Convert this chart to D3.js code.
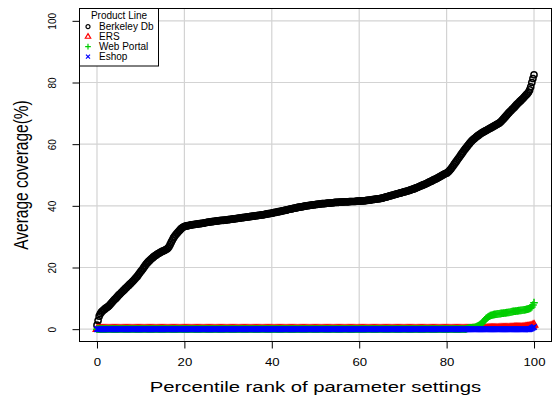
<!DOCTYPE html>
<html>
<head>
<meta charset="utf-8">
<script src="https://cdn.jsdelivr.net/npm/d3@7"></script>
<style>
  body { margin: 0; background: #fff; }
  svg { display: block; font-family: "Liberation Sans", Arial, sans-serif; }
</style>
</head>
<body>
<svg id="chart" width="552" height="398"></svg>
<script>
// percentile rank of each parameter setting (0, 0.25, ... 100)
const percentiles = d3.range(0, 100.25, 0.25);

const berkeleyDb = [
  1.3, 2.8, 4.2, 5.0, 5.5, 5.9, 6.2, 6.5, 6.8, 7.0, 7.3, 7.6, 8.0, 8.4, 8.8, 9.2, 9.6, 9.9, 10.3, 10.7,
  11.1, 11.4, 11.8, 12.1, 12.5, 12.8, 13.2, 13.5, 13.9, 14.2, 14.6, 14.9, 15.3, 15.6, 16.0, 16.4, 16.8, 17.2, 17.7, 18.2,
  18.7, 19.1, 19.6, 20.1, 20.6, 21.1, 21.5, 21.9, 22.2, 22.6, 22.9, 23.2, 23.5, 23.8, 24.0, 24.3, 24.5, 24.7, 24.9, 25.1,
  25.3, 25.4, 25.6, 25.8, 26.0, 26.3, 26.8, 27.5, 28.2, 28.9, 29.6, 30.1, 30.6, 31.0, 31.4, 31.8, 32.2, 32.6, 32.9, 33.1,
  33.3, 33.4, 33.5, 33.55, 33.6, 33.7, 33.8, 33.85, 33.9, 33.95, 34.0, 34.05, 34.1, 34.15, 34.2, 34.25, 34.3, 34.35, 34.4, 34.5,
  34.6, 34.65, 34.7, 34.75, 34.8, 34.85, 34.9, 34.95, 35.0, 35.05, 35.1, 35.15, 35.2, 35.25, 35.3, 35.3, 35.3, 35.35, 35.4, 35.45,
  35.5, 35.55, 35.6, 35.65, 35.7, 35.75, 35.8, 35.85, 35.9, 35.95, 36.0, 36.05, 36.1, 36.15, 36.2, 36.25, 36.3, 36.35, 36.4, 36.45,
  36.5, 36.55, 36.6, 36.65, 36.7, 36.75, 36.8, 36.85, 36.9, 36.95, 37.0, 37.05, 37.1, 37.15, 37.2, 37.3, 37.4, 37.45, 37.5, 37.55,
  37.6, 37.7, 37.8, 37.85, 37.9, 38.0, 38.1, 38.15, 38.2, 38.3, 38.4, 38.45, 38.5, 38.6, 38.7, 38.8, 38.9, 38.95, 39.0, 39.1,
  39.2, 39.25, 39.3, 39.4, 39.5, 39.55, 39.6, 39.65, 39.7, 39.8, 39.9, 39.95, 40.0, 40.05, 40.1, 40.15, 40.2, 40.25, 40.3, 40.35,
  40.4, 40.45, 40.5, 40.55, 40.6, 40.65, 40.7, 40.7, 40.7, 40.75, 40.8, 40.85, 40.9, 40.9, 40.9, 40.95, 41.0, 41.05, 41.1, 41.1,
  41.1, 41.15, 41.2, 41.2, 41.2, 41.25, 41.3, 41.3, 41.3, 41.3, 41.3, 41.35, 41.4, 41.4, 41.4, 41.4, 41.4, 41.45, 41.5, 41.5,
  41.5, 41.55, 41.6, 41.6, 41.6, 41.65, 41.7, 41.75, 41.8, 41.85, 41.9, 41.95, 42.0, 42.05, 42.1, 42.15, 42.2, 42.25, 42.3, 42.35,
  42.4, 42.5, 42.6, 42.7, 42.8, 42.9, 43.0, 43.1, 43.2, 43.3, 43.4, 43.5, 43.6, 43.7, 43.8, 43.9, 44.0, 44.1, 44.2, 44.3,
  44.4, 44.5, 44.6, 44.7, 44.8, 44.9, 45.0, 45.15, 45.3, 45.4, 45.5, 45.65, 45.8, 45.95, 46.1, 46.25, 46.4, 46.55, 46.7, 46.85,
  47.0, 47.15, 47.3, 47.5, 47.7, 47.85, 48.0, 48.2, 48.4, 48.55, 48.7, 48.9, 49.1, 49.3, 49.5, 49.7, 49.9, 50.1, 50.3, 50.45,
  50.6, 50.9, 51.2, 51.6, 52.0, 52.5, 53.0, 53.5, 54.0, 54.5, 55.0, 55.5, 56.0, 56.5, 57.0, 57.5, 58.0, 58.45, 58.9, 59.35,
  59.8, 60.25, 60.7, 61.05, 61.4, 61.7, 62.0, 62.3, 62.6, 62.85, 63.1, 63.35, 63.6, 63.8, 64.0, 64.2, 64.4, 64.6, 64.8, 65.0,
  65.2, 65.4, 65.6, 65.8, 66.0, 66.2, 66.4, 66.6, 66.8, 67.1, 67.4, 67.8, 68.2, 68.6, 69.0, 69.4, 69.8, 70.2, 70.6, 70.95,
  71.3, 71.65, 72.0, 72.4, 72.8, 73.15, 73.5, 73.85, 74.2, 74.55, 74.9, 75.3, 75.7, 76.05, 76.4, 76.9, 77.6, 78.6, 80.0, 81.3,
  82.5
];

const ers = [
  0, 0, 0, 0, 0, 0, 0, 0, 0, 0, 0, 0, 0, 0, 0, 0, 0, 0, 0, 0,
  0, 0, 0, 0, 0, 0, 0, 0, 0, 0, 0, 0, 0, 0, 0, 0, 0, 0, 0, 0,
  0, 0, 0, 0, 0, 0, 0, 0, 0, 0, 0, 0, 0, 0, 0, 0, 0, 0, 0, 0,
  0, 0, 0, 0, 0, 0, 0, 0, 0, 0, 0, 0, 0, 0, 0, 0, 0, 0, 0, 0,
  0, 0, 0, 0, 0, 0, 0, 0, 0, 0, 0, 0, 0, 0, 0, 0, 0, 0, 0, 0,
  0, 0, 0, 0, 0, 0, 0, 0, 0, 0, 0, 0, 0, 0, 0, 0, 0, 0, 0, 0,
  0, 0, 0, 0, 0, 0, 0, 0, 0, 0, 0, 0, 0, 0, 0, 0, 0, 0, 0, 0,
  0, 0, 0, 0, 0, 0, 0, 0, 0, 0, 0, 0, 0, 0, 0, 0, 0, 0, 0, 0,
  0, 0, 0, 0, 0, 0, 0, 0, 0, 0, 0, 0, 0, 0, 0, 0, 0, 0, 0, 0,
  0, 0, 0, 0, 0, 0, 0, 0, 0, 0, 0, 0, 0, 0, 0, 0, 0, 0, 0, 0,
  0, 0, 0, 0, 0, 0, 0, 0, 0, 0, 0, 0, 0, 0, 0, 0, 0, 0, 0, 0,
  0, 0, 0, 0, 0, 0, 0, 0, 0, 0, 0, 0, 0, 0, 0, 0, 0, 0, 0, 0,
  0, 0, 0, 0, 0, 0, 0, 0, 0, 0, 0, 0, 0, 0, 0, 0, 0, 0, 0, 0,
  0, 0, 0, 0, 0, 0, 0, 0, 0, 0, 0, 0, 0, 0, 0, 0, 0, 0, 0, 0,
  0, 0, 0, 0, 0, 0, 0, 0, 0, 0, 0, 0, 0, 0, 0, 0, 0, 0, 0, 0,
  0, 0, 0, 0, 0, 0, 0, 0, 0, 0, 0, 0, 0, 0, 0, 0, 0, 0, 0, 0,
  0, 0, 0, 0, 0, 0, 0, 0, 0, 0, 0, 0, 0, 0, 0, 0, 0, 0, 0, 0,
  0, 0, 0, 0, 0, 0, 0, 0, 0, 0, 0, 0, 0.1, 0.1, 0.1, 0.12, 0.15, 0.17, 0.2, 0.2,
  0.2, 0.2, 0.2, 0.2, 0.25, 0.25, 0.25, 0.25, 0.3, 0.3, 0.3, 0.3, 0.3, 0.3, 0.35, 0.35, 0.35, 0.35, 0.4, 0.4,
  0.4, 0.4, 0.45, 0.45, 0.45, 0.45, 0.5, 0.5, 0.5, 0.5, 0.55, 0.55, 0.6, 0.65, 0.7, 0.75, 0.8, 0.9, 1.0, 1.2,
  1.4
];

const webPortal = [
  0, 0, 0, 0, 0, 0, 0, 0, 0, 0, 0, 0, 0, 0, 0, 0, 0, 0, 0, 0,
  0, 0, 0, 0, 0, 0, 0, 0, 0, 0, 0, 0, 0, 0, 0, 0, 0, 0, 0, 0,
  0, 0, 0, 0, 0, 0, 0, 0, 0, 0, 0, 0, 0, 0, 0, 0, 0, 0, 0, 0,
  0, 0, 0, 0, 0, 0, 0, 0, 0, 0, 0, 0, 0, 0, 0, 0, 0, 0, 0, 0,
  0, 0, 0, 0, 0, 0, 0, 0, 0, 0, 0, 0, 0, 0, 0, 0, 0, 0, 0, 0,
  0, 0, 0, 0, 0, 0, 0, 0, 0, 0, 0, 0, 0, 0, 0, 0, 0, 0, 0, 0,
  0, 0, 0, 0, 0, 0, 0, 0, 0, 0, 0, 0, 0, 0, 0, 0, 0, 0, 0, 0,
  0, 0, 0, 0, 0, 0, 0, 0, 0, 0, 0, 0, 0, 0, 0, 0, 0, 0, 0, 0,
  0, 0, 0, 0, 0, 0, 0, 0, 0, 0, 0, 0, 0, 0, 0, 0, 0, 0, 0, 0,
  0, 0, 0, 0, 0, 0, 0, 0, 0, 0, 0, 0, 0, 0, 0, 0, 0, 0, 0, 0,
  0, 0, 0, 0, 0, 0, 0, 0, 0, 0, 0, 0, 0, 0, 0, 0, 0, 0, 0, 0,
  0, 0, 0, 0, 0, 0, 0, 0, 0, 0, 0, 0, 0, 0, 0, 0, 0, 0, 0, 0,
  0, 0, 0, 0, 0, 0, 0, 0, 0, 0, 0, 0, 0, 0, 0, 0, 0, 0, 0, 0,
  0, 0, 0, 0, 0, 0, 0, 0, 0, 0, 0, 0, 0, 0, 0, 0, 0, 0, 0, 0,
  0, 0, 0, 0, 0, 0, 0, 0, 0, 0, 0, 0, 0, 0, 0, 0, 0, 0, 0, 0,
  0, 0, 0, 0, 0, 0, 0, 0, 0, 0, 0, 0, 0, 0, 0, 0, 0, 0, 0, 0,
  0, 0, 0, 0, 0, 0, 0, 0, 0, 0, 0, 0, 0, 0, 0, 0, 0, 0, 0.1, 0.2,
  0.3, 0.35, 0.4, 0.45, 0.5, 0.55, 0.6, 0.75, 0.9, 1.1, 1.3, 1.55, 1.8, 2.2, 2.6, 3.0, 3.4, 3.7, 4.0, 4.2,
  4.4, 4.5, 4.6, 4.7, 4.8, 4.85, 4.9, 4.95, 5.0, 5.05, 5.1, 5.15, 5.2, 5.25, 5.3, 5.35, 5.4, 5.45, 5.5, 5.6,
  5.7, 5.75, 5.8, 5.85, 5.9, 5.95, 6.0, 6.05, 6.1, 6.15, 6.2, 6.25, 6.3, 6.4, 6.5, 6.6, 6.7, 6.9, 7.2, 7.8,
  8.6
];

const eshop = [
  0, 0, 0, 0, 0, 0, 0, 0, 0, 0, 0, 0, 0, 0, 0, 0, 0, 0, 0, 0,
  0, 0, 0, 0, 0, 0, 0, 0, 0, 0, 0, 0, 0, 0, 0, 0, 0, 0, 0, 0,
  0, 0, 0, 0, 0, 0, 0, 0, 0, 0, 0, 0, 0, 0, 0, 0, 0, 0, 0, 0,
  0, 0, 0, 0, 0, 0, 0, 0, 0, 0, 0, 0, 0, 0, 0, 0, 0, 0, 0, 0,
  0, 0, 0, 0, 0, 0, 0, 0, 0, 0, 0, 0, 0, 0, 0, 0, 0, 0, 0, 0,
  0, 0, 0, 0, 0, 0, 0, 0, 0, 0, 0, 0, 0, 0, 0, 0, 0, 0, 0, 0,
  0, 0, 0, 0, 0, 0, 0, 0, 0, 0, 0, 0, 0, 0, 0, 0, 0, 0, 0, 0,
  0, 0, 0, 0, 0, 0, 0, 0, 0, 0, 0, 0, 0, 0, 0, 0, 0, 0, 0, 0,
  0, 0, 0, 0, 0, 0, 0, 0, 0, 0, 0, 0, 0, 0, 0, 0, 0, 0, 0, 0,
  0, 0, 0, 0, 0, 0, 0, 0, 0, 0, 0, 0, 0, 0, 0, 0, 0, 0, 0, 0,
  0, 0, 0, 0, 0, 0, 0, 0, 0, 0, 0, 0, 0, 0, 0, 0, 0, 0, 0, 0,
  0, 0, 0, 0, 0, 0, 0, 0, 0, 0, 0, 0, 0, 0, 0, 0, 0, 0, 0, 0,
  0, 0, 0, 0, 0, 0, 0, 0, 0, 0, 0, 0, 0, 0, 0, 0, 0, 0, 0, 0,
  0, 0, 0, 0, 0, 0, 0, 0, 0, 0, 0, 0, 0, 0, 0, 0, 0, 0, 0, 0,
  0, 0, 0, 0, 0, 0, 0, 0, 0, 0, 0, 0, 0, 0, 0, 0, 0, 0, 0, 0,
  0, 0, 0, 0, 0, 0, 0, 0, 0, 0, 0, 0, 0, 0, 0, 0, 0, 0, 0, 0,
  0, 0, 0, 0, 0, 0, 0, 0, 0, 0, 0, 0, 0, 0, 0, 0, 0, 0, 0, 0,
  0, 0, 0, 0, 0, 0, 0, 0, 0, 0, 0, 0, 0, 0, 0, 0, 0, 0, 0, 0,
  0, 0, 0, 0, 0, 0, 0, 0, 0, 0, 0, 0, 0, 0, 0, 0, 0, 0, 0, 0,
  0, 0, 0, 0, 0, 0, 0, 0, 0, 0, 0, 0, 0, 0, 0, 0, 0, 0.1, 0.3, 0.5,
  0.7
];

const seriesNames = ["Berkeley Db", "ERS", "Web Portal", "Eshop"];
const xTicks = [0, 20, 40, 60, 80, 100];
const yTicks = [0, 20, 40, 60, 80, 100];

const series = [
  { name: seriesNames[0], values: berkeleyDb, shape: "circle", color: "#000000" },
  { name: seriesNames[1], values: ers, shape: "triangle", color: "#ff0000" },
  { name: seriesNames[2], values: webPortal, shape: "plus", color: "#00cd00" },
  { name: seriesNames[3], values: eshop, shape: "cross", color: "#0000ff" }
];

const plotL = 79.5, plotR = 551.5, plotT = 8.5, plotB = 341.5;

const x = d3.scaleLinear().domain([-4, 104]).range([plotL, plotR]);
const y = d3.scaleLinear().domain([-4, 104]).range([plotB, plotT]);

const svg = d3.select("#chart");

// R style point symbols, s = half size
function symbolPath(shape, s) {
  if (shape === "circle") {
    return `M${s},0A${s},${s} 0 1,1 ${-s},0A${s},${s} 0 1,1 ${s},0Z`;
  }
  if (shape === "triangle") {
    const r = 1.555 * s, xc = 1.347 * s, yc = 0.778 * s;
    return `M0,${-r}L${xc},${yc}L${-xc},${yc}Z`;
  }
  if (shape === "plus") {
    const p = Math.SQRT2 * s;
    return `M${-p},0H${p}M0,${-p}V${p}`;
  }
  return `M${-s},${-s}L${s},${s}M${-s},${s}L${s},${-s}`;
}

// grid
const grid = svg.append("g").attr("stroke", "#d3d3d3").attr("stroke-width", 1.2);
grid.selectAll(".vg").data(xTicks).join("line")
  .attr("x1", d => x(d)).attr("x2", d => x(d))
  .attr("y1", plotT).attr("y2", plotB);
grid.selectAll(".hg").data(yTicks).join("line")
  .attr("y1", d => y(d)).attr("y2", d => y(d))
  .attr("x1", plotL).attr("x2", plotR);

// points
series.forEach(s => {
  const pts = s.values.map((v, i) => [percentiles[i], v]);
  svg.append("g")
    .attr("fill", "none")
    .attr("stroke", s.color)
    .attr("stroke-width", 1.5)
    .selectAll("path")
    .data(pts)
    .join("path")
    .attr("transform", d => `translate(${x(d[0])},${y(d[1])})`)
    .attr("d", symbolPath(s.shape, s.shape === "circle" ? 3.1 : 2.7));
});

// axes
const yAxis = svg.append("g")
  .attr("transform", `translate(${plotL},0)`)
  .call(d3.axisLeft(y).tickValues(yTicks).tickSize(7).tickFormat(d3.format("d")));
yAxis.select(".domain").remove();
yAxis.selectAll("text")
  .attr("x", null).attr("dy", "0.36em")
  .attr("text-anchor", "middle")
  .attr("font-size", 10)
  .attr("fill", "#000")
  .attr("transform", "translate(-28,0) scale(1.15,1) rotate(-90)");

const xAxis = svg.append("g")
  .attr("transform", `translate(0,${plotB})`)
  .call(d3.axisBottom(x).tickValues(xTicks).tickSize(7).tickFormat(d3.format("d")));
xAxis.select(".domain").remove();
xAxis.selectAll("text")
  .attr("y", 25).attr("dy", null)
  .attr("font-size", 10)
  .attr("fill", "#000")
  .attr("transform", "scale(1.32,1)");
svg.selectAll(".tick line").attr("stroke", "#000");

// box
svg.append("rect")
  .attr("x", plotL).attr("y", plotT)
  .attr("width", plotR - plotL).attr("height", plotB - plotT)
  .attr("fill", "none").attr("stroke", "#000");

// titles
svg.append("text")
  .attr("transform", `translate(${(plotL + plotR) / 2},391.5) scale(1.31,1)`)
  .attr("text-anchor", "middle")
  .attr("font-size", 15.5)
  .text("Percentile rank of parameter settings");

svg.append("text")
  .attr("transform", `translate(28,${(plotT + plotB) / 2}) scale(1.35,1) rotate(-90)`)
  .attr("text-anchor", "middle")
  .attr("font-size", 15.5)
  .text("Average coverage(%)");

// legend
const legend = svg.append("g");
legend.append("rect")
  .attr("x", plotL).attr("y", plotT)
  .attr("width", 79).attr("height", 57.5)
  .attr("fill", "#fff").attr("stroke", "#000");
legend.append("text")
  .attr("x", plotL + 39.5).attr("y", 18.5)
  .attr("text-anchor", "middle")
  .attr("font-size", 10)
  .text("Product Line");
const rows = legend.selectAll(".row").data(series).join("g")
  .attr("transform", (d, i) => `translate(${plotL + 8.5},${26.7 + i * 10})`);
rows.append("path")
  .attr("d", d => symbolPath(d.shape, 2))
  .attr("fill", "none")
  .attr("stroke", d => d.color)
  .attr("stroke-width", 1.2);
rows.append("text")
  .attr("x", 11).attr("dy", "0.36em")
  .attr("font-size", 10)
  .text(d => d.name);
</script>
</body>
</html>
